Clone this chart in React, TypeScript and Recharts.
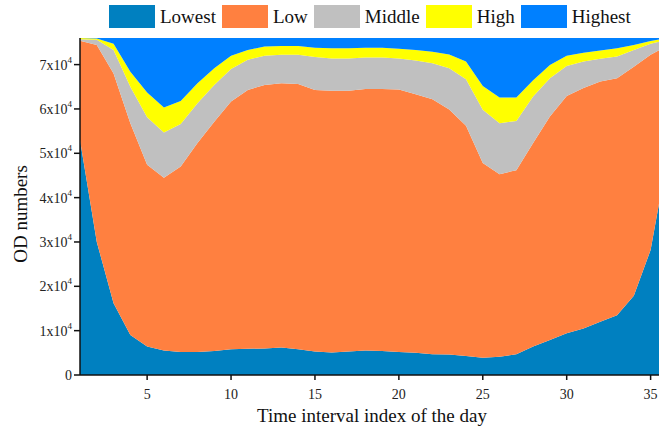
import { AreaChart, Area, XAxis, YAxis } from "recharts";

// time interval index (x axis)
const intervals = [
  1, 2, 3, 4, 5, 6, 7, 8, 9, 10, 11, 12, 13, 14, 15, 16, 17, 18,
  19, 20, 21, 22, 23, 24, 25, 26, 27, 28, 29, 30, 31, 32, 33, 34, 35, 36,
];

// OD numbers per level
const lowest = [
  53000, 30000, 16200, 9000, 6400, 5500, 5200, 5200, 5400, 5800, 5900, 6000,
  6200, 5800, 5300, 5100, 5300, 5500, 5400, 5200, 5000, 4700, 4600, 4300,
  3900, 4100, 4700, 6400, 7900, 9400, 10500, 12000, 13500, 17900, 28200, 49000,
];
const low = [
  22400, 44400, 51800, 47800, 41000, 39000, 41800, 47100, 51700, 55900, 58400, 59400,
  59600, 59800, 59000, 59000, 58800, 59000, 59100, 59200, 58300, 57500, 55300, 51900,
  43900, 41200, 41500, 45900, 50400, 53500, 54200, 54200, 53400, 51600, 44000, 25300,
];
const middle = [
  300, 1200, 5300, 8200, 10700, 10200, 9600, 9000, 8300, 7300, 6800, 6600,
  6400, 6600, 7400, 7300, 7300, 7100, 7100, 7000, 7600, 8100, 9300, 10500,
  12000, 11500, 11100, 10500, 8600, 6800, 6000, 5100, 4900, 3800, 2500, 1300,
];
const high = [
  300, 300, 1400, 3400, 5600, 5600, 5200, 4500, 3800, 3000, 2200, 2100,
  2000, 2000, 2100, 2300, 2300, 2200, 2200, 2200, 2400, 2600, 3100, 4000,
  5400, 5800, 5300, 3700, 3000, 2300, 2000, 1900, 1900, 1100, 600, 400,
];
const highest = [
  0, 100, 1300, 7600, 12300, 15700, 14200, 10200, 6800, 4000, 2700, 1900,
  1800, 1800, 2200, 2300, 2300, 2200, 2200, 2400, 2700, 3100, 3700, 5300,
  10800, 13400, 13400, 9500, 6100, 4000, 3300, 2800, 2300, 1600, 700, 0,
];

const xTicks = [5, 10, 15, 20, 25, 30, 35];
const yTicks = [0, 10000, 20000, 30000, 40000, 50000, 60000, 70000];

const series = [
  { key: "lowest", name: "Lowest", color: "#0080C0" },
  { key: "low", name: "Low", color: "#FF8040" },
  { key: "middle", name: "Middle", color: "#C0C0C0" },
  { key: "high", name: "High", color: "#FFFF00" },
  { key: "highest", name: "Highest", color: "#0080FF" },
];

const data = intervals.map((t, i) => ({
  t,
  lowest: lowest[i],
  low: low[i],
  middle: middle[i],
  high: high[i],
  highest: highest[i],
}));

const FONT = "'Liberation Serif', serif";

function YTick({ x, y, payload }: any) {
  const v = payload.value as number;
  return (
    <text x={x} y={y} dy={5} textAnchor="end" fontSize={14} fill="#222" fontFamily={FONT}>
      {v === 0 ? "0" : `${v / 10000}x10`}
      {v !== 0 && (
        <tspan dy={-7} fontSize={9}>
          4
        </tspan>
      )}
    </text>
  );
}

function XTick({ x, y, payload }: any) {
  return (
    <text x={x} y={y} dy={11} textAnchor="middle" fontSize={14} fill="#222" fontFamily={FONT}>
      {payload.value}
    </text>
  );
}

// axis titles ignore the viewBox Recharts hands them
function XTitle() {
  return (
    <text x={372} y={422} textAnchor="middle" fontSize={19} fill="#111" fontFamily={FONT}>
      Time interval index of the day
    </text>
  );
}

function YTitle() {
  return (
    <text
      x={27}
      y={214}
      transform="rotate(-90, 27, 214)"
      textAnchor="middle"
      fontSize={19}
      fill="#111"
      fontFamily={FONT}
    >
      OD numbers
    </text>
  );
}

function Legend() {
  return (
    <div
      style={{
        position: "absolute",
        left: 109,
        top: 5,
        display: "flex",
        alignItems: "center",
        fontFamily: FONT,
        fontSize: 19,
        color: "#111",
        zIndex: 2,
      }}
    >
      {series.map((s) => (
        <div key={s.key} style={{ display: "flex", alignItems: "center", marginRight: 6 }}>
          <span style={{ display: "inline-block", width: 46, height: 23, background: s.color, marginRight: 5 }} />
          <span>{s.name}</span>
        </div>
      ))}
    </div>
  );
}

export default function App() {
  return (
    <div style={{ position: "absolute", left: 0, top: 0, width: 659, height: 430, overflow: "hidden", background: "#fff" }}>
      <Legend />
      <AreaChart width={659} height={430} data={data} margin={{ top: 38, right: 0, bottom: 0, left: 0 }}>
        <XAxis
          dataKey="t"
          type="number"
          domain={[1, 35.5]}
          allowDataOverflow
          ticks={xTicks}
          tick={<XTick />}
          tickSize={5}
          tickMargin={8}
          height={55}
          stroke="#111"
          strokeWidth={1.5}
          label={<XTitle />}
        />
        <YAxis
          type="number"
          domain={[0, 76000]}
          allowDataOverflow
          ticks={yTicks}
          tick={<YTick />}
          tickSize={6}
          tickMargin={2}
          width={80}
          stroke="#111"
          strokeWidth={1.5}
          label={<YTitle />}
        />
        {series.map((s) => (
          <Area
            key={s.key}
            dataKey={s.key}
            name={s.name}
            stackId="od"
            type="linear"
            stroke="none"
            fill={s.color}
            fillOpacity={1}
            isAnimationActive={false}
          />
        ))}
      </AreaChart>
    </div>
  );
}
